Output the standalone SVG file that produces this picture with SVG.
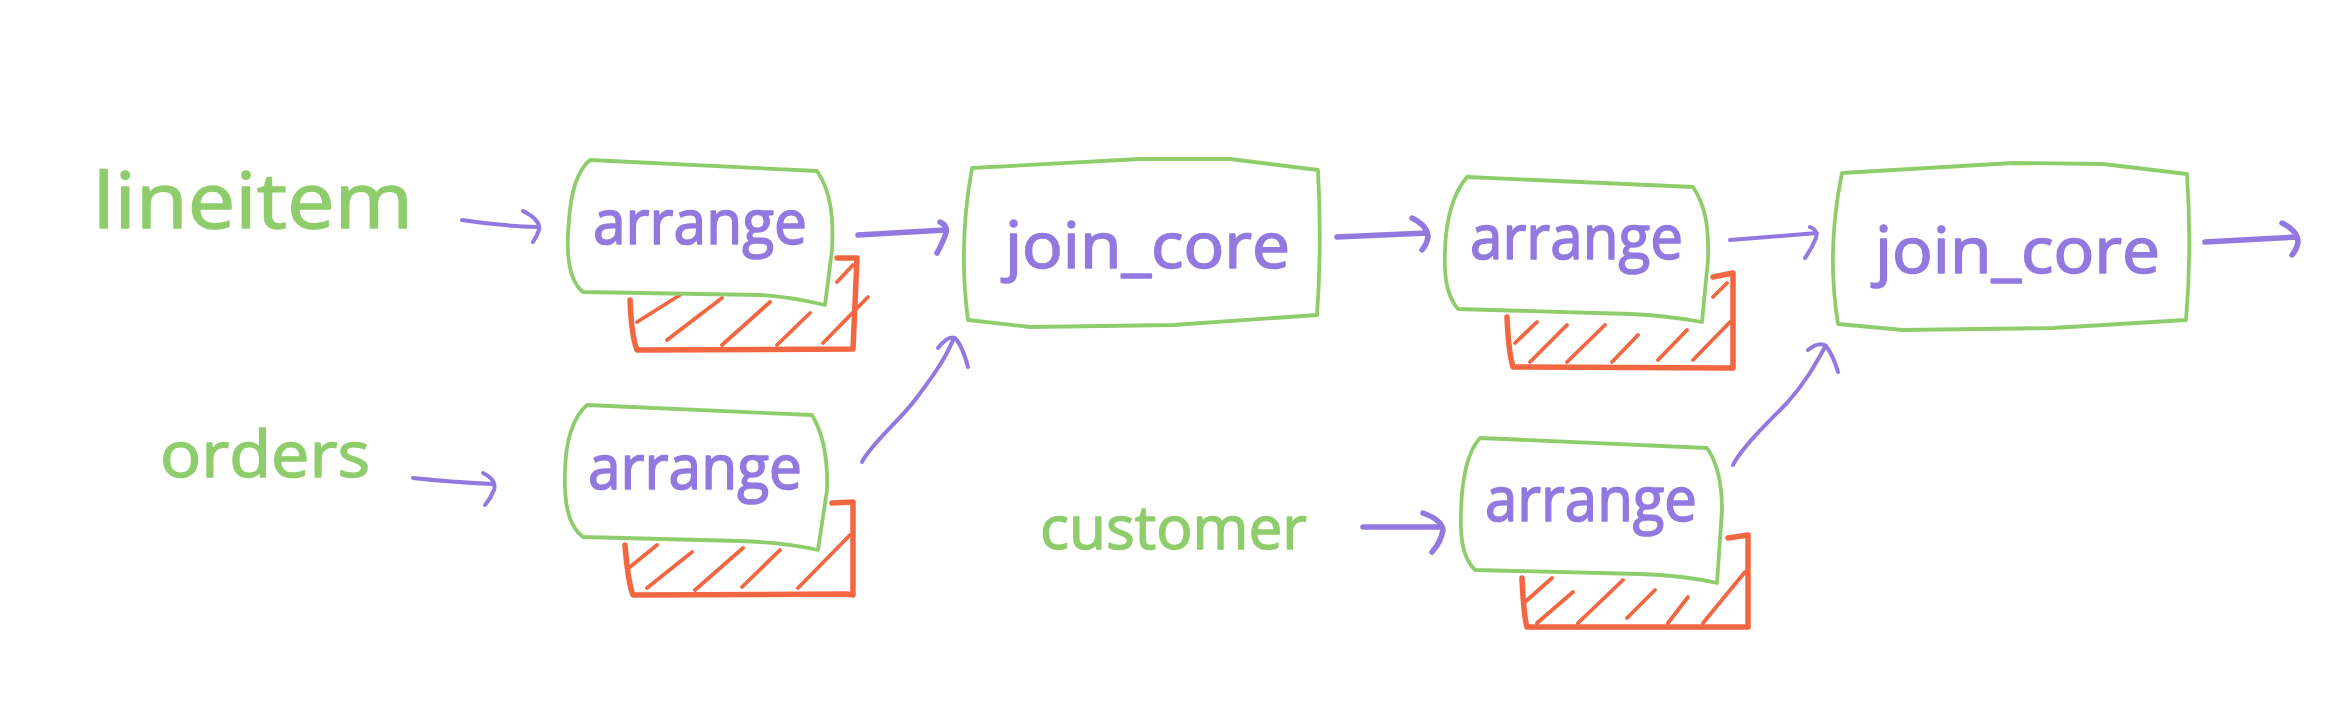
<svg xmlns="http://www.w3.org/2000/svg" width="2326" height="727" viewBox="0 0 2326 727">
<style>
.bg{fill:#ffffff}
.box{fill:none;stroke:#8fcd6c;stroke-width:3.8;stroke-linejoin:round;stroke-linecap:round}
.hb{fill:none;stroke:#f26641;stroke-width:5.5;stroke-linejoin:round;stroke-linecap:round}
.hl{fill:none;stroke:#f26641;stroke-width:3.8;stroke-linecap:round}
.edge{fill:none;stroke:#9279e0;stroke-width:5.5;stroke-linecap:round;stroke-linejoin:round}
.thin{stroke-width:4}
.lbl{font-family:"Open Sans","Liberation Sans",sans-serif;font-weight:400;fill:#9279e0;stroke:#9279e0;stroke-width:1.6;stroke-linejoin:round}
.src{font-family:"Open Sans","Liberation Sans",sans-serif;font-weight:400;fill:#8fcd6c;stroke:#8fcd6c;stroke-width:1.4;stroke-linejoin:round}
</style>
<rect class="bg" x="0" y="0" width="2326" height="727"/>

<g id="lineitem"><text class="src" x="93" y="228" font-size="76" textLength="320" lengthAdjust="spacingAndGlyphs">lineitem</text></g>
<g id="orders"><text class="src" x="160" y="477" font-size="64" textLength="210" lengthAdjust="spacingAndGlyphs">orders</text></g>
<g id="customer"><text class="src" x="1040" y="549" font-size="60" textLength="267" lengthAdjust="spacingAndGlyphs">customer</text></g>

<g id="arrange1">
<path class="hb" d="M630,300 C631,325 633,340 637,350 L853,349 L857,258 L837,258"/>
<path class="hl" d="M637,322 L680,295 M667,340 L722,298 M722,345 L770,302 M777,345 L810,313 M823,343 L868,297 M837,282 L853,265"/>
<path class="box" d="M590,160 L817,171 C830,190 834,215 832,250 L825,305 C800,299 780,296 760,295 L583,292 C568,280 566,250 569,220 C571,190 578,170 590,160 Z"/>
<text class="lbl" x="593" y="244" font-size="63" textLength="214" lengthAdjust="spacingAndGlyphs">arrange</text>
</g>

<g id="arrange2">
<path class="hb" d="M625,545 C627,570 629,585 633,595 L847,594 L853,595 L853,502 L832,503"/>
<path class="hl" d="M630,567 L657,545 M647,588 L692,552 M695,590 L743,548 M742,587 L780,550 M798,588 L850,535"/>
<path class="box" d="M587,405 L812,415 C824,435 828,460 827,490 L818,550 C795,545 770,542 740,541 L583,537 C567,525 564,500 565,470 C566,440 572,418 587,405 Z"/>
<text class="lbl" x="588" y="489" font-size="63" textLength="214" lengthAdjust="spacingAndGlyphs">arrange</text>
</g>

<g id="join_core1">
<path class="box" d="M972,168 L1140,159 L1230,159 L1318,170 Q1322,245 1317,315 L1173,325 L1030,327 L968,320 Q958,245 972,168 Z"/>
<text class="lbl" x="1005" y="268" font-size="64" textLength="285" lengthAdjust="spacingAndGlyphs">join_core</text>
</g>

<g id="arrange3">
<path class="hb" d="M1507,317 C1508,340 1510,357 1513,367 L1730,368 L1733,368 L1733,273 L1713,277"/>
<path class="hl" d="M1515,343 L1537,322 M1530,362 L1567,325 M1567,362 L1605,325 M1612,362 L1638,335 M1658,360 L1687,330 M1693,360 L1730,322 M1713,297 L1727,283"/>
<path class="box" d="M1467,177 L1693,187 C1705,205 1709,225 1708,260 L1702,322 C1680,318 1655,315 1630,314 L1458,309 C1446,295 1444,275 1445,250 C1446,220 1452,195 1467,177 Z"/>
<text class="lbl" x="1470" y="259" font-size="63" textLength="213" lengthAdjust="spacingAndGlyphs">arrange</text>
</g>

<g id="arrange4">
<path class="hb" d="M1522,578 C1523,600 1524,617 1527,627 L1743,627 L1748,627 L1748,535 L1728,538"/>
<path class="hl" d="M1525,602 L1552,578 M1537,623 L1573,592 M1578,623 L1623,580 M1627,618 L1655,590 M1668,623 L1688,597 M1703,623 L1745,572"/>
<path class="box" d="M1480,438 L1707,448 C1717,462 1722,480 1722,510 L1717,583 C1695,578 1670,575 1640,574 L1475,570 C1463,558 1460,540 1461,510 C1462,480 1467,452 1480,438 Z"/>
<text class="lbl" x="1485" y="521" font-size="63" textLength="212" lengthAdjust="spacingAndGlyphs">arrange</text>
</g>

<g id="join_core2">
<path class="box" d="M1842,173 L2013,163 L2103,164 L2187,174 Q2192,250 2186,320 L2053,328 L1903,330 L1838,324 Q1826,250 1842,173 Z"/>
<text class="lbl" x="1875" y="273" font-size="64" textLength="285" lengthAdjust="spacingAndGlyphs">join_core</text>
</g>

<g id="connectors">
<path class="edge thin" d="M462,220 Q500,226 537,227 M523,211 Q541,220 539,230 Q537,236 533,242"/>
<path class="edge thin" d="M413,478 Q450,482 492,484 M483,473 Q497,480 494,490 Q491,498 485,505"/>
<path class="edge" d="M858,235 L945,230 M940,222 Q948,226 946,233 Q943,242 937,253"/>
<path class="edge thin" d="M862,462 C870,445 900,420 915,400 C930,380 945,360 953,340 M938,348 Q948,335 955,338 Q962,345 968,367"/>
<path class="edge" d="M1337,237 L1427,233 M1412,218 Q1428,226 1428,237 Q1427,244 1422,250"/>
<path class="edge" d="M1363,527 L1442,527 M1423,513 Q1442,520 1443,530 Q1441,542 1432,552"/>
<path class="edge thin" d="M1730,240 L1817,233 M1810,227 Q1818,230 1816,238 Q1812,248 1805,258"/>
<path class="edge thin" d="M1733,465 C1740,450 1765,425 1787,403 C1805,383 1815,365 1825,347 M1808,350 Q1819,341 1826,346 Q1833,355 1838,372"/>
<path class="edge" d="M2205,242 L2297,237 M2282,223 Q2298,231 2298,242 Q2297,249 2292,255"/>
</g>
</svg>
